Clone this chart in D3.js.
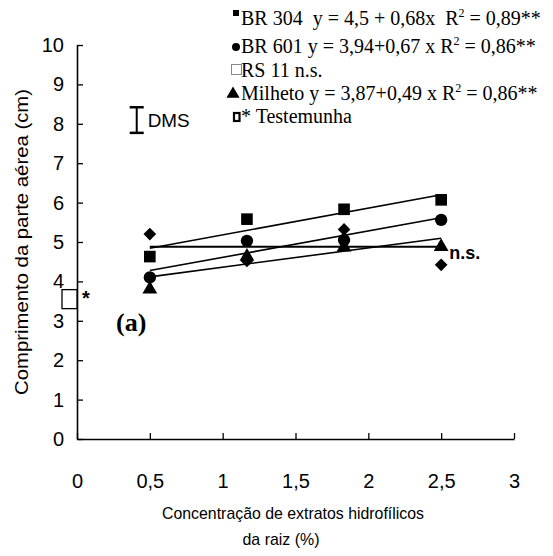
<!DOCTYPE html>
<html>
<head>
<meta charset="utf-8">
<script src="https://cdn.jsdelivr.net/npm/d3@7"></script>
<style>
  body { margin: 0; background: #fff; }
  text { white-space: pre; }
</style>
</head>
<body>
<div id="chart"></div>
<script>
// data
var concentracao = [0.5, 1.1667, 1.8333, 2.5];
var br304 = [4.63, 5.58, 5.83, 6.07];
var br601 = [4.1, 5.03, 5.05, 5.56];
var rs11 = [5.2, 4.52, 5.32, 4.42];
var milheto = [3.8, 4.63, 4.87, 4.88];
// regression coefficients [a, b] from the legend
var br304Fit = [4.5, 0.68];
var br601Fit = [3.94, 0.67];
var milhetoFit = [3.87, 0.49];
var rs11Media = 4.88;
var testemunha = {x: 0, y: 3.55};
var dms = {x: 0.41, low: 7.77, high: 8.42};
var xTicks = [0, 0.5, 1, 1.5, 2, 2.5, 3];
var xTickLabels = ["0", "0,5", "1", "1,5", "2", "2,5", "3"];
var yTicks = [0, 1, 2, 3, 4, 5, 6, 7, 8, 9, 10];

var width = 553, height = 556;
var margin = {top: 45, right: 39, bottom: 117, left: 77};

var svg = d3.select("#chart")
  .append("svg")
    .attr("width", width)
    .attr("height", height);

var x = d3.scaleLinear().domain([0, 3]).range([margin.left, width - margin.right]);
var y = d3.scaleLinear().domain([0, 10]).range([height - margin.bottom, margin.top]);

var sans = "Liberation Sans, Arial, sans-serif";
var serif = "Liberation Serif, Times New Roman, serif";

// axes
var xAxis = svg.append("g")
  .attr("transform", "translate(0," + y(0) + ")")
  .call(d3.axisBottom(x).tickValues(xTicks).tickSizeInner(-6).tickSizeOuter(0)
    .tickFormat(function(d, i) { return xTickLabels[i]; }));
xAxis.select(".domain").attr("stroke-width", 1.6);
xAxis.selectAll(".tick line").attr("stroke-width", 1.3);
xAxis.selectAll(".tick text")
  .attr("font-family", sans).attr("font-size", 20)
  .attr("y", 49).attr("dy", 0);

var yAxis = svg.append("g")
  .attr("transform", "translate(" + x(0) + ",0)")
  .call(d3.axisLeft(y).tickValues(yTicks).tickSizeInner(-6).tickSizeOuter(0));
yAxis.select(".domain").attr("stroke-width", 1.6);
yAxis.selectAll(".tick line").attr("stroke-width", 1.3);
yAxis.selectAll(".tick text")
  .attr("font-family", sans).attr("font-size", 20)
  .attr("x", -13);

// axis titles
svg.append("text")
  .attr("transform", "translate(28," + 242 + ") rotate(-90)")
  .attr("text-anchor", "middle")
  .attr("font-family", sans).attr("font-size", 19)
  .attr("textLength", 306).attr("lengthAdjust", "spacingAndGlyphs")
  .text("Comprimento da parte aérea (cm)");

svg.append("text")
  .attr("x", 293).attr("y", 519)
  .attr("text-anchor", "middle")
  .attr("font-family", sans).attr("font-size", 17)
  .attr("textLength", 262).attr("lengthAdjust", "spacingAndGlyphs")
  .text("Concentração de extratos hidrofílicos");
svg.append("text")
  .attr("x", 281).attr("y", 545)
  .attr("text-anchor", "middle")
  .attr("font-family", sans).attr("font-size", 17)
  .attr("textLength", 77).attr("lengthAdjust", "spacingAndGlyphs")
  .text("da raiz (%)");

// regression lines
var fitLine = d3.line()
  .x(function(d) { return x(d[0]); })
  .y(function(d) { return y(d[1]); });
var xs = [concentracao[0], concentracao[concentracao.length - 1]];
[br304Fit, br601Fit, milhetoFit].forEach(function(f) {
  svg.append("path")
    .datum(xs.map(function(v) { return [v, f[0] + f[1] * v]; }))
    .attr("fill", "none").attr("stroke", "#000").attr("stroke-width", 1.6)
    .attr("d", fitLine);
});
svg.append("path")
  .datum(xs.map(function(v) { return [v, rs11Media]; }))
  .attr("fill", "none").attr("stroke", "#000").attr("stroke-width", 2)
  .attr("d", fitLine);

// markers
function draw(values, type, size, rot) {
  svg.append("g").selectAll("path")
    .data(values)
    .enter().append("path")
      .attr("transform", function(d, i) {
        return "translate(" + x(concentracao[i]) + "," + y(d) + ") rotate(" + (rot || 0) + ")";
      })
      .attr("d", d3.symbol().type(type).size(size))
      .attr("fill", "#000");
}
draw(milheto, d3.symbolTriangle, 95);
draw(br601, d3.symbolCircle, 120);
draw(rs11, d3.symbolSquare, 80, 45);
draw(br304, d3.symbolSquare, 135);

svg.append("text")
  .attr("x", x(2.5) + 8).attr("y", y(milheto[3]) + 12)
  .attr("font-family", sans).attr("font-size", 19).attr("font-weight", "bold")
  .attr("textLength", 31).attr("lengthAdjust", "spacingAndGlyphs")
  .text("n.s.");

// testemunha
svg.append("rect")
  .attr("x", x(testemunha.x) - 15).attr("y", y(testemunha.y) - 9.5)
  .attr("width", 15).attr("height", 19)
  .attr("fill", "#fff").attr("stroke", "#000").attr("stroke-width", 1.3);
svg.append("text")
  .attr("x", x(testemunha.x) + 5).attr("y", y(testemunha.y) + 6)
  .attr("font-family", sans).attr("font-size", 20).attr("font-weight", "bold")
  .text("*");

// DMS bar
var dx = x(dms.x);
svg.append("line").attr("x1", dx).attr("x2", dx).attr("y1", y(dms.low)).attr("y2", y(dms.high))
  .attr("stroke", "#000").attr("stroke-width", 2);
[dms.low, dms.high].forEach(function(v) {
  svg.append("line").attr("x1", dx - 7).attr("x2", dx + 7).attr("y1", y(v)).attr("y2", y(v))
    .attr("stroke", "#000").attr("stroke-width", 2.5);
});
svg.append("text")
  .attr("x", dx + 11).attr("y", y((dms.low + dms.high) / 2) + 7)
  .attr("font-family", sans).attr("font-size", 19)
  .attr("textLength", 42).attr("lengthAdjust", "spacingAndGlyphs")
  .text("DMS");

// panel label
svg.append("text")
  .attr("x", 116).attr("y", 331)
  .attr("font-family", serif).attr("font-size", 26).attr("font-weight", "bold")
  .text("(a)");

// legend
var legend = svg.append("g").attr("font-family", serif).attr("font-size", 20);
function legendLine(yPos, parts) {
  var t = legend.append("text").attr("x", 241).attr("y", yPos);
  parts.forEach(function(p) {
    var s = t.append("tspan").text(p[0]);
    if (p[1]) s.attr("font-size", 12).attr("dy", -8);
    if (p[2]) s.attr("dy", 8);
  });
}
legendLine(25, [["BR 304  y = 4,5 + 0,68x  R"], ["2", true], [" = 0,89**", false, true]]);
legendLine(53, [["BR 601 y = 3,94+0,67 x R"], ["2", true], [" = 0,86**", false, true]]);
legendLine(77, [["RS 11 n.s."]]);
legendLine(100, [["Milheto y = 3,87+0,49 x R"], ["2", true], [" = 0,86**", false, true]]);
legendLine(123, [["* Testemunha"]]);

legend.append("rect").attr("x", 233).attr("y", 10).attr("width", 6).attr("height", 6).attr("fill", "#000");
legend.append("circle").attr("cx", 236).attr("cy", 47).attr("r", 4).attr("fill", "#000");
legend.append("rect").attr("x", 231.5).attr("y", 64.5).attr("width", 10).attr("height", 10)
  .attr("fill", "none").attr("stroke", "#888").attr("stroke-width", 1);
legend.append("path")
  .attr("transform", "translate(233,94)")
  .attr("d", d3.symbol().type(d3.symbolTriangle).size(75))
  .attr("fill", "#000");
legend.append("rect").attr("x", 234).attr("y", 113).attr("width", 5.5).attr("height", 8)
  .attr("fill", "none").attr("stroke", "#000").attr("stroke-width", 2.2);
</script>
</body>
</html>
